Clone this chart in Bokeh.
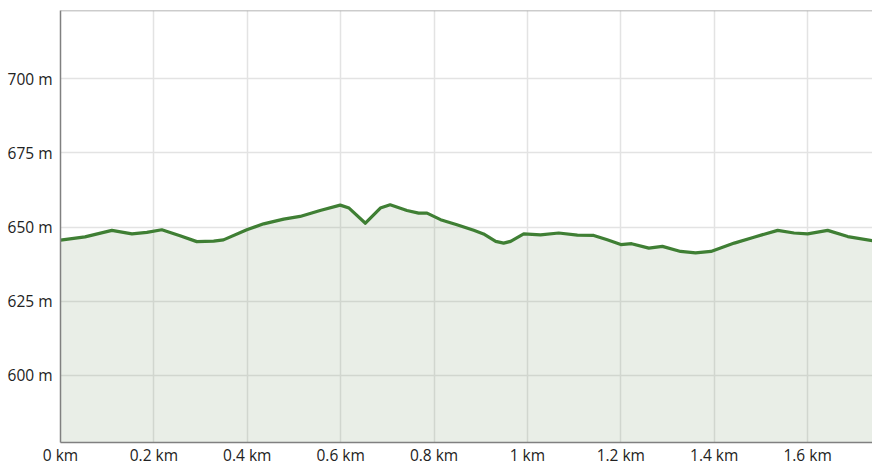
from bokeh.plotting import figure
from bokeh.models import FixedTicker, CustomJSTickFormatter, Span, Range1d
from bokeh.embed import file_html
from bokeh.resources import INLINE

distance_km = [0.0, 0.0525, 0.110, 0.153, 0.185, 0.217, 0.256, 0.292, 0.328, 0.349,
               0.399, 0.435, 0.478, 0.513, 0.556, 0.599, 0.618, 0.653, 0.685, 0.706,
               0.742, 0.767, 0.785, 0.814, 0.849, 0.885, 0.906, 0.932, 0.949, 0.964,
               0.992, 1.028, 1.067, 1.107, 1.142, 1.171, 1.200, 1.223, 1.260, 1.289,
               1.328, 1.360, 1.393, 1.443, 1.485, 1.536, 1.571, 1.600, 1.643, 1.686,
               1.739]
elevation_m = [645.6, 646.7, 648.9, 647.7, 648.2, 649.1, 647.1, 645.1, 645.3, 645.7,
               649.1, 651.1, 652.7, 653.6, 655.6, 657.4, 656.4, 651.3, 656.4, 657.5,
               655.6, 654.7, 654.7, 652.5, 650.8, 648.9, 647.7, 645.2, 644.6, 645.2,
               647.7, 647.4, 648.0, 647.3, 647.2, 645.7, 644.1, 644.4, 642.9, 643.5,
               641.8, 641.3, 641.8, 644.6, 646.6, 648.9, 648.0, 647.7, 648.9, 646.8,
               645.4]
x_ticks = [0, 0.2, 0.4, 0.6, 0.8, 1.0, 1.2, 1.4, 1.6]
y_ticks = [600, 625, 650, 675, 700]
y_min, y_max = 577.4, 723.0
x_max = 1.739

FONT = "Open Sans"

p = figure(width=872, height=468, output_backend="svg", toolbar_location=None,
           x_range=Range1d(0, x_max), y_range=Range1d(y_min, y_max),
           min_border_left=60, min_border_right=0, min_border_top=10, min_border_bottom=25)
p.outline_line_color = None

p.varea(x=distance_km, y1=[y_min] * len(distance_km), y2=elevation_m,
        fill_color="#6b8a5f", fill_alpha=0.15)
p.line(x=distance_km, y=elevation_m, line_color="#3f7f34", line_width=3.2,
       line_join="round", line_cap="round")

p.add_layout(Span(location=y_max, dimension="width", line_color="#9a9a9a", line_width=1.5))

p.xaxis.ticker = FixedTicker(ticks=x_ticks)
p.yaxis.ticker = FixedTicker(ticks=y_ticks)
p.xaxis.formatter = CustomJSTickFormatter(code="return (Math.round(tick*10)/10) + ' km';")
p.yaxis.formatter = CustomJSTickFormatter(code="return tick + ' m';")

for ax in (p.xaxis, p.yaxis):
    ax.major_tick_line_color = None
    ax.minor_tick_line_color = None
    ax.axis_line_color = "#808080"
    ax.axis_line_width = 1.5
    ax.major_label_text_font = FONT
    ax.major_label_text_font_size = "15.5px"
    ax.major_label_text_color = "#222222"
p.xaxis.major_label_standoff = -5
p.yaxis.major_label_standoff = 2

p.xgrid.grid_line_color = "#e3e3e3"
p.ygrid.grid_line_color = "#e3e3e3"
p.xgrid.grid_line_width = 1.5
p.ygrid.grid_line_width = 1.5

html = file_html(p, INLINE)
open("out.html", "w").write(html)
